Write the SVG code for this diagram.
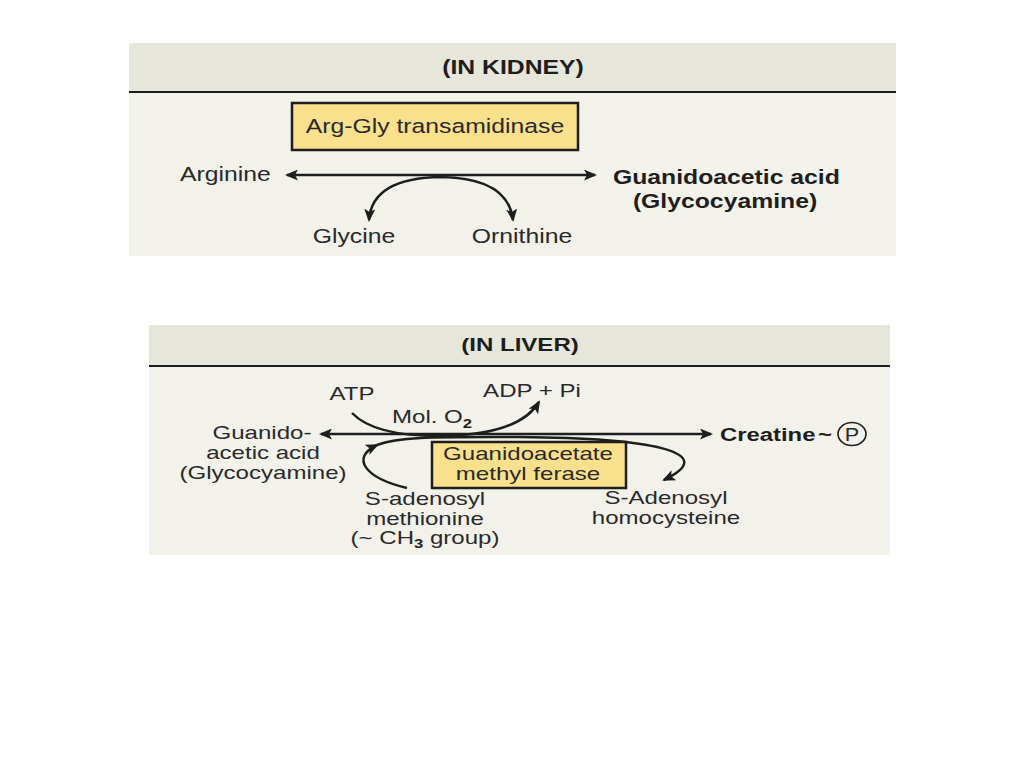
<svg xmlns="http://www.w3.org/2000/svg" width="1024" height="768" viewBox="0 0 1024 768">
<defs>
<style>
.hdr{fill:#e7e6da}
.body{fill:#f2f1ea}
.div{stroke:#1e1e1e;stroke-width:2}
.enz{fill:#f9e08c;stroke:#1e1e1e;stroke-width:2.5}
.t{font-family:"Liberation Sans",Arial,sans-serif;fill:#2a2a2a}
.k{font-size:19.5px}
.l{font-size:18.8px}
.b{font-weight:bold;fill:#1e1e1e}
.c{stroke:#1e1e1e;stroke-width:2.5;fill:none}
</style>
<marker id="ah" viewBox="0 0 13 11" refX="11" refY="5.5" markerWidth="13" markerHeight="11" markerUnits="userSpaceOnUse" orient="auto-start-reverse">
<path d="M0,0 L13,5.5 L0,11 L3,5.5 z" fill="#1e1e1e"/>
</marker>
</defs>
<rect width="1024" height="768" fill="#ffffff"/>

<g id="kidney-panel">
<rect class="body" x="129" y="43" width="767" height="213"/>
<rect class="hdr" x="129" y="43" width="767" height="49"/>
<line class="div" x1="129" y1="92" x2="896" y2="92"/>
<text class="t k b" text-anchor="middle" transform="matrix(1.27 0 0 1 513 74)">(IN KIDNEY)</text>
</g>

<g id="arg-gly-transamidinase">
<rect class="enz" x="292" y="103" width="286" height="47"/>
<text class="t k" text-anchor="middle" transform="matrix(1.27 0 0 1 435 133)">Arg-Gly transamidinase</text>
</g>
<g id="arginine"><text class="t k" transform="matrix(1.27 0 0 1 180 181)">Arginine</text></g>
<g id="guanidoacetic-acid-k">
<text class="t k b" transform="matrix(1.27 0 0 1 613 184)">Guanidoacetic acid</text>
<text class="t k b" text-anchor="middle" transform="matrix(1.27 0 0 1 725 208)">(Glycocyamine)</text>
</g>
<g id="glycine"><text class="t k" text-anchor="middle" transform="matrix(1.27 0 0 1 354 243)">Glycine</text></g>
<g id="ornithine"><text class="t k" text-anchor="middle" transform="matrix(1.27 0 0 1 522 243)">Ornithine</text></g>

<g id="liver-panel">
<rect class="body" x="149" y="325" width="741" height="230"/>
<rect class="hdr" x="149" y="325" width="741" height="41"/>
<line class="div" x1="149" y1="366" x2="890" y2="366"/>
<text class="t l b" text-anchor="middle" transform="matrix(1.28 0 0 1 520 351)">(IN LIVER)</text>
</g>

<g id="atp"><text class="t l" text-anchor="middle" transform="matrix(1.28 0 0 1 352 400)">ATP</text></g>
<g id="adp-pi"><text class="t l" text-anchor="middle" transform="matrix(1.28 0 0 1 532 397)">ADP + Pi</text></g>
<g id="mol-o2"><text class="t l" transform="matrix(1.28 0 0 1 392 423)">Mol. O<tspan class="b" font-size="13" dy="5">2</tspan></text></g>
<g id="guanidoacetic-acid-l">
<text class="t l" text-anchor="middle" transform="matrix(1.28 0 0 1 262 439)">Guanido-</text>
<text class="t l" text-anchor="middle" transform="matrix(1.28 0 0 1 263 459)">acetic acid</text>
<text class="t l" text-anchor="middle" transform="matrix(1.28 0 0 1 263 479)">(Glycocyamine)</text>
</g>
<g id="creatine-p">
<text class="t l b" transform="matrix(1.27 0 0 1 720 441)">Creatine</text>
<text class="t l b" text-anchor="middle" transform="matrix(1.28 0 0 1 825 441)">~</text>
<ellipse cx="852" cy="434" rx="14" ry="11.5" fill="none" stroke="#1e1e1e" stroke-width="1.6"/>
<text class="t l" text-anchor="middle" transform="matrix(1.15 0 0 1 852 441)" font-size="18" fill="#1e1e1e">P</text>
</g>
<g id="guanidoacetate-methyl-ferase">
<rect class="enz" x="432" y="442" width="194" height="46"/>
<text class="t l" text-anchor="middle" transform="matrix(1.28 0 0 1 528 460)">Guanidoacetate</text>
<text class="t l" text-anchor="middle" transform="matrix(1.28 0 0 1 528 480)">methyl ferase</text>
</g>
<g id="s-adenosyl-methionine">
<text class="t l" text-anchor="middle" transform="matrix(1.28 0 0 1 425 505)">S-adenosyl</text>
<text class="t l" text-anchor="middle" transform="matrix(1.28 0 0 1 425 525)">methionine</text>
<text class="t l" text-anchor="middle" transform="matrix(1.28 0 0 1 425 544)">(~ CH<tspan class="b" font-size="13" dy="4">3</tspan><tspan dy="-4"> group)</tspan></text>
</g>
<g id="s-adenosyl-homocysteine">
<text class="t l" text-anchor="middle" transform="matrix(1.28 0 0 1 666 504)">S-Adenosyl</text>
<text class="t l" text-anchor="middle" transform="matrix(1.28 0 0 1 666 524)">homocysteine</text>
</g>

<g id="connectors">
<line class="c" x1="287" y1="175" x2="595" y2="175" marker-start="url(#ah)" marker-end="url(#ah)"/>
<path class="c" d="M369 220 Q372 178 441 177 Q508 178 513 220" marker-start="url(#ah)" marker-end="url(#ah)"/>
<line class="c" x1="321" y1="434" x2="711" y2="434" marker-start="url(#ah)" marker-end="url(#ah)"/>
<path class="c" d="M352 413 Q375 437 445 436 Q520 434 539 402" marker-end="url(#ah)"/>
<path class="c" d="M407 488 C365 478 350 458 377 445" marker-end="url(#ah)"/>
<path class="c" d="M377 445 C400 436 440 437 520 437 C650 438 722 452 664 480" marker-end="url(#ah)"/>
</g>
</svg>
